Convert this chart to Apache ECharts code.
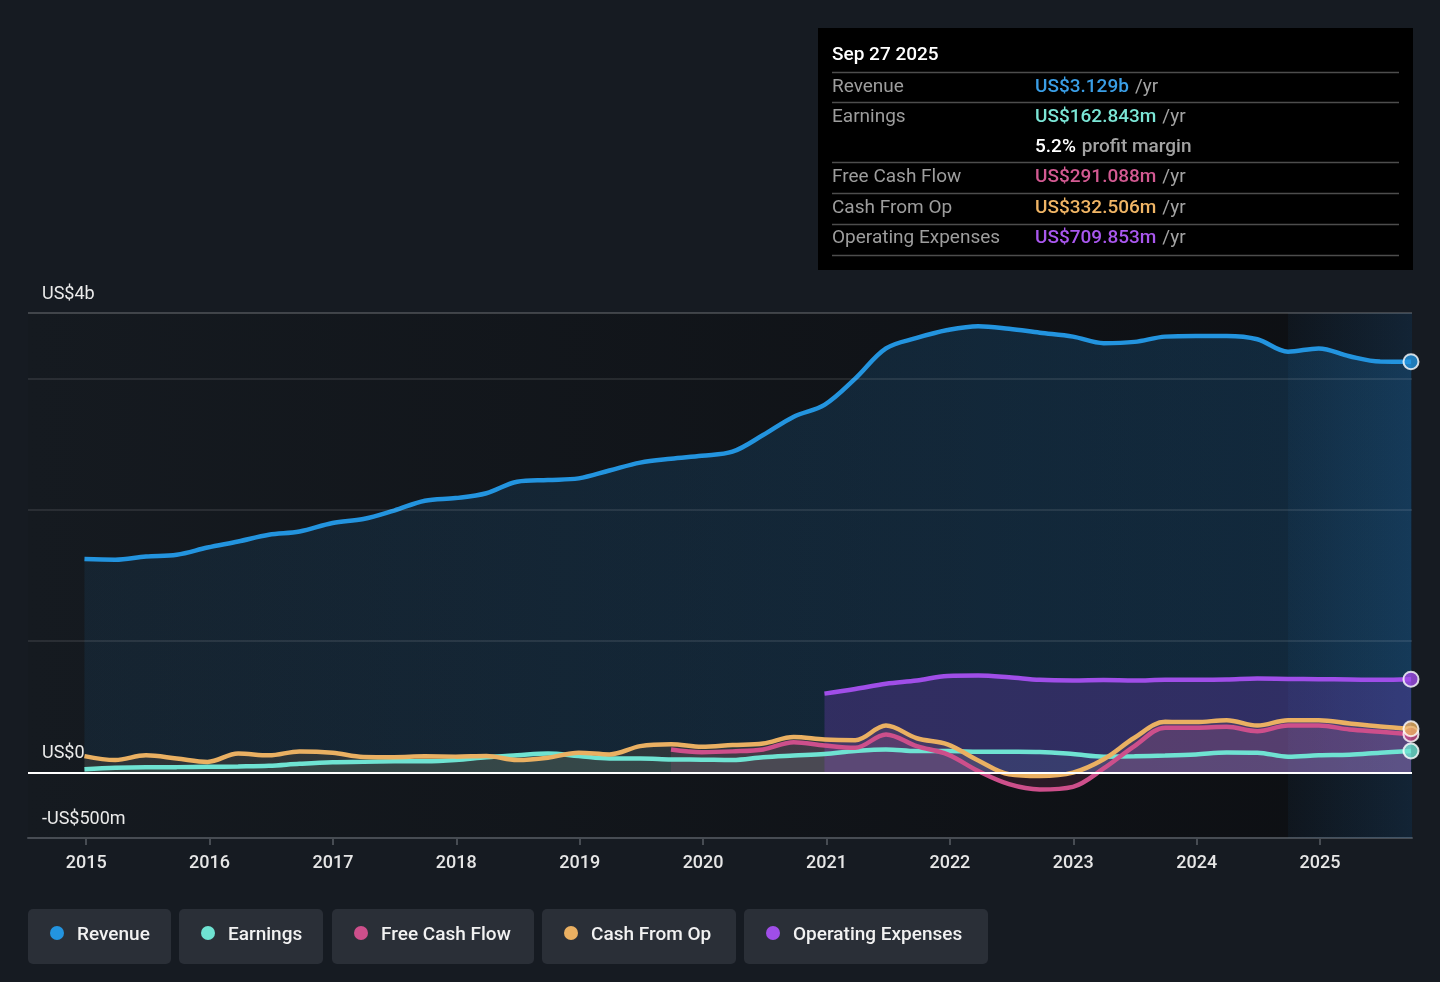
<!DOCTYPE html>
<html>
<head>
<meta charset="utf-8">
<style>
html,body{margin:0;padding:0;background:#161b22;}
#chart{width:1440px;height:982px;}
</style>
<script src="https://cdn.jsdelivr.net/npm/echarts@6.0.0/dist/echarts.min.js"></script>
</head>
<body>
<div id="chart"></div>
<script>
// ---------- DATA (values in US$ billions) ----------
const dates = ['2014-12-27','2015-03-28','2015-06-27','2015-09-26','2015-12-26','2016-03-26','2016-06-25','2016-09-24','2016-12-31','2017-04-01','2017-07-01','2017-09-30','2017-12-30','2018-03-31','2018-06-30','2018-09-29','2018-12-29','2019-03-30','2019-06-29','2019-09-28','2019-12-28','2020-03-28','2020-06-27','2020-09-26','2020-12-26','2021-03-27','2021-06-26','2021-09-25','2021-12-25','2022-03-26','2022-06-25','2022-09-24','2022-12-31','2023-04-01','2023-07-01','2023-09-30','2023-12-30','2024-03-30','2024-06-29','2024-09-28','2024-12-28','2025-03-29','2025-06-28','2025-09-27'];

const revenue = [1.625,1.62,1.645,1.658,1.713,1.759,1.81,1.835,1.90,1.93,1.995,2.07,2.09,2.127,2.215,2.228,2.24,2.30,2.36,2.39,2.413,2.443,2.57,2.71,2.80,3.00,3.23,3.31,3.37,3.40,3.38,3.35,3.32,3.27,3.28,3.32,3.325,3.325,3.30,3.205,3.23,3.17,3.13,3.129];

const earnings = [0.023,0.035,0.04,0.04,0.042,0.045,0.05,0.065,0.077,0.08,0.084,0.085,0.095,0.115,0.13,0.144,0.125,0.106,0.106,0.099,0.097,0.094,0.115,0.128,0.14,0.163,0.175,0.162,0.162,0.158,0.157,0.155,0.14,0.12,0.122,0.128,0.137,0.152,0.15,0.12,0.13,0.135,0.15,0.163];

const freeCashFlow = ['-','-','-','-','-','-','-','-','-','-','-','-','-','-','-','-','-','-','-',0.175,0.154,0.16,0.175,0.23,0.205,0.188,0.289,0.2,0.137,0.01,-0.09,-0.13,-0.11,0.03,0.20,0.34,0.34,0.347,0.314,0.357,0.357,0.327,0.31,0.291];

const cashFromOp = [0.124,0.094,0.13,0.106,0.08,0.144,0.13,0.16,0.15,0.118,0.116,0.122,0.12,0.124,0.094,0.112,0.15,0.137,0.20,0.215,0.195,0.208,0.22,0.27,0.25,0.245,0.357,0.26,0.213,0.09,-0.015,-0.028,-0.002,0.10,0.264,0.385,0.383,0.398,0.357,0.398,0.398,0.373,0.35,0.3325];

const operatingExpenses = ['-','-','-','-','-','-','-','-','-','-','-','-','-','-','-','-','-','-','-','-','-','-','-','-',0.60,0.635,0.675,0.70,0.735,0.738,0.725,0.705,0.70,0.703,0.70,0.705,0.705,0.707,0.715,0.712,0.71,0.708,0.705,0.71];

const seriesNames = ['Revenue','Earnings','Free Cash Flow','Cash From Op','Operating Expenses'];
const xTickYears = [2015,2016,2017,2018,2019,2020,2021,2022,2023,2024,2025];
const xRange = ['2014-07-13', '2025-09-30'];
const yLabelValues = [-0.5, 0, 3.5];
const yLabelTexts = ['-US$500m', 'US$0', 'US$4b'];
const highlightRange = ['2024-09-28', '2025-09-30'];

const tipDate = 'Sep 27 2025';
const tipLabels = ['Revenue','Earnings','','Free Cash Flow','Cash From Op','Operating Expenses'];
const tipValues = ['US$3.129b','US$162.843m','5.2%','US$291.088m','US$332.506m','US$709.853m'];
const tipUnits = ['/yr','/yr','profit margin','/yr','/yr','/yr'];

// ---------- helpers ----------
// date string -> fractional year (x position on a value axis)
function toYear(s) {
  const [y, m, d] = s.split('-').map(Number);
  const start = Date.UTC(y, 0, 1), end = Date.UTC(y + 1, 0, 1);
  return y + (Date.UTC(y, m - 1, d) - start) / (end - start);
}

// ---------- STYLE ----------
const FONT = 'Roboto, "Noto Sans", sans-serif';
const colors = ['#2394df', '#6fe3d2', '#cd4f8b', '#eab062', '#a04ee8'];
const tipColors = ['#3a9ee6', '#7be6d6', '#d35a92', '#f0b565', '#a957ee'];

const chart = echarts.init(document.getElementById('chart'), null, {renderer: 'canvas'});
const G = echarts.graphic;

function pairs(arr) { return dates.map((d, i) => [toYear(d), arr[i]]); }
function lastPoint(arr) { return [toYear(dates[dates.length - 1]), arr[arr.length - 1]]; }

const allSeries = [revenue, earnings, freeCashFlow, cashFromOp, operatingExpenses];
const areaFills = [
  new G.LinearGradient(0, 0, 1, 0, [{offset: 0, color: 'rgba(33,140,220,0.13)'}, {offset: 1, color: 'rgba(33,140,220,0.3)'}]),
  'rgba(111,227,210,0.15)',
  'rgba(205,79,139,0.2)',
  'rgba(234,176,98,0.17)',
  'rgba(150,70,235,0.33)'
];

const series = allSeries.map((arr, i) => {
  const s = {
    name: seriesNames[i],
    type: 'line',
    data: pairs(arr),
    smooth: 0.35,
    showSymbol: false,
    symbol: 'none',
    connectNulls: false,
    lineStyle: {color: colors[i], width: 4.5},
    itemStyle: {color: colors[i]},
    areaStyle: {color: areaFills[i]},
    silent: true,
    z: 2
  };
  if (i === 0) {
    s.markArea = {
      silent: true,
      itemStyle: {
        color: new G.LinearGradient(0, 0, 1, 0, [{offset: 0, color: 'rgba(40,120,190,0.06)'}, {offset: 1, color: 'rgba(40,120,190,0.2)'}])
      },
      data: [[{xAxis: toYear(highlightRange[0])}, {xAxis: toYear(highlightRange[1])}]]
    };
  }
  if (i === allSeries.length - 1) {
    s.markLine = {
      silent: true,
      symbol: 'none',
      label: {show: false},
      lineStyle: {color: '#ffffff', width: 2, type: 'solid'},
      data: [{yAxis: 0}]
    };
  }
  return s;
});

series.push({
  type: 'scatter',
  silent: true,
  symbol: 'circle',
  symbolSize: 15,
  z: 5,
  data: allSeries.map((arr, i) => ({
    value: lastPoint(arr),
    itemStyle: {color: colors[i], borderColor: '#ffffff', borderWidth: 2}
  }))
});

// ---------- graphic: tooltip box ----------
const graphic = [];
graphic.push({type: 'rect', shape: {x: 818, y: 28, width: 595, height: 242}, style: {fill: '#000000'}, z: 100});
graphic.push({type: 'text', x: 832, y: 55.5, style: {text: tipDate, fill: '#ffffff', font: '500 19px ' + FONT, verticalAlign: 'middle'}, z: 101});
const sepY = [72.5, 102.5, 162.5, 193.5, 224.5, 255.5];
sepY.forEach(y => graphic.push({type: 'line', shape: {x1: 832, y1: y, x2: 1399, y2: y}, style: {stroke: '#4d4d4d', lineWidth: 1.5}, z: 101}));
const rowY = [87, 117, 147, 177, 208, 238];
tipLabels.forEach((lab, i) => {
  if (lab) graphic.push({type: 'text', x: 832, y: rowY[i], style: {text: lab, fill: '#9d9d9d', font: '19px ' + FONT, verticalAlign: 'middle'}, z: 101});
  const isMargin = (i === 2);
  graphic.push({type: 'text', x: 1035, y: rowY[i], z: 101, style: {
    text: '{v|' + tipValues[i] + '}{u|' + tipUnits[i] + '}',
    verticalAlign: 'middle',
    rich: {
      v: {fill: isMargin ? '#ffffff' : tipColors[i < 2 ? i : i - 1], fontSize: 19, fontWeight: 500, fontFamily: FONT},
      u: {fill: '#a3a3a3', fontSize: 19, fontWeight: isMargin ? 500 : 400, fontFamily: FONT, padding: [0, 0, 0, 6]}
    }
  }});
});

// ---------- graphic: legend buttons ----------
const legendBoxes = [[28, 143], [179, 144], [332, 202], [542, 194], [744, 244]];
seriesNames.forEach((name, i) => {
  const [bx, bw] = legendBoxes[i];
  graphic.push({type: 'rect', shape: {x: bx, y: 909, width: bw, height: 55, r: 5}, style: {fill: '#2a2f37'}, z: 100});
  graphic.push({type: 'circle', shape: {cx: bx + 29, cy: 933, r: 7}, style: {fill: colors[i]}, z: 101});
  graphic.push({type: 'text', x: bx + 49, y: 935, style: {text: name, fill: '#f2f2f2', font: '500 19px ' + FONT, verticalAlign: 'middle'}, z: 101});
});

const option = {
  backgroundColor: '#161b22',
  animation: false,
  grid: {
    left: 28, right: 28, top: 313, bottom: 144,
    show: true, borderWidth: 0,
    backgroundColor: new G.LinearGradient(0, 0, 1, 0, [{offset: 0, color: '#151a20'}, {offset: 1, color: '#0d0f13'}])
  },
  xAxis: {
    type: 'value',
    min: toYear(xRange[0]),
    max: toYear(xRange[1]),
    axisLine: {show: true, onZero: false, lineStyle: {color: '#474c53', width: 2}},
    axisTick: {show: true, length: 7, lineStyle: {color: '#474c53', width: 2}, customValues: xTickYears},
    splitLine: {show: false},
    axisLabel: {
      customValues: xTickYears,
      color: '#e6e6e6', fontSize: 18, fontFamily: FONT, fontWeight: 500, margin: 16,
      formatter: v => String(Math.round(v))
    }
  },
  yAxis: {
    type: 'value',
    min: -0.5, max: 3.5, interval: 0.5,
    axisLine: {show: false},
    axisTick: {show: false},
    splitLine: {
      show: true,
      lineStyle: {
        width: 1.5,
        color: ['rgba(0,0,0,0)', 'rgba(0,0,0,0)', 'rgba(0,0,0,0)', 'rgba(255,255,255,0.12)', 'rgba(0,0,0,0)', 'rgba(255,255,255,0.12)', 'rgba(0,0,0,0)', 'rgba(255,255,255,0.12)', 'rgba(255,255,255,0.25)']
      }
    },
    axisLabel: {
      inside: true, margin: 14, showMaxLabel: true, showMinLabel: true,
      verticalAlign: 'bottom', padding: [0, 0, 10, 0],
      color: '#ebebeb', fontSize: 18, fontFamily: FONT,
      formatter: v => {
        const k = yLabelValues.findIndex(t => Math.abs(t - v) < 1e-9);
        return k >= 0 ? yLabelTexts[k] : '';
      }
    },
    z: 3
  },
  series: series,
  graphic: graphic
};
chart.setOption(option);
</script>
</body>
</html>
